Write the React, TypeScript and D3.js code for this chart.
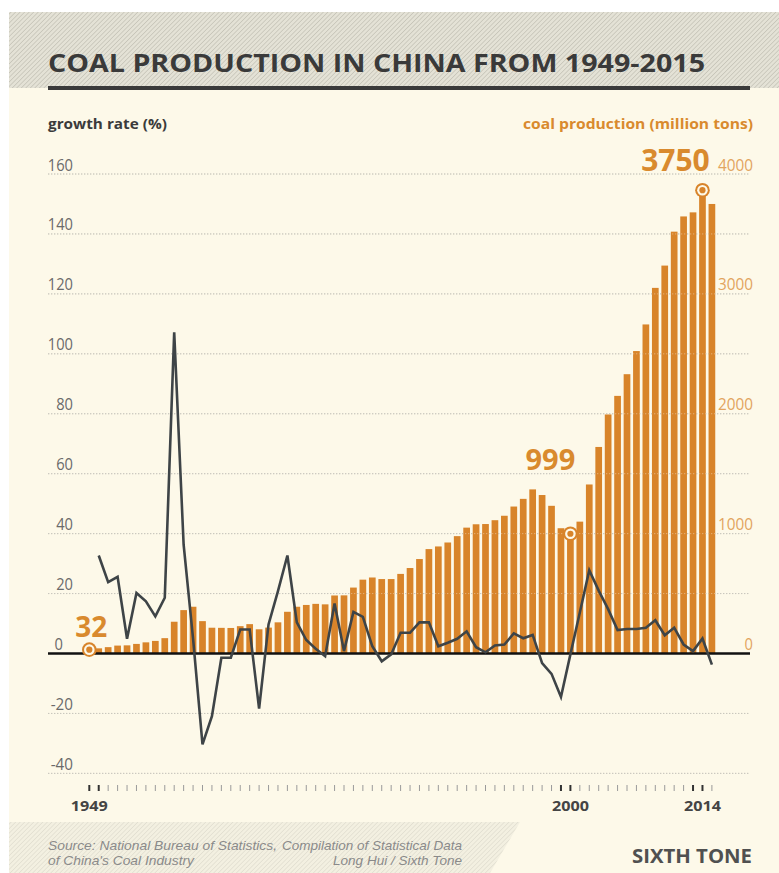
import React from "react";
import * as d3 from "d3";

// ---------- DATA ----------
const firstYear = 1949;
const lastYear = 2015;
const years: number[] = d3.range(firstYear, lastYear + 1);

// coal production, million tons (1949–2015)
const production: number[] = [
  32, 43, 53, 66, 68, 80, 93, 105, 128, 265,
  362, 390, 270, 215, 214, 213, 228, 245, 202, 216,
  260, 348, 390, 405, 414, 410, 484, 485, 550, 616,
  634, 621, 621, 664, 713, 788, 871, 893, 926, 979,
  1050, 1078, 1080, 1112, 1149, 1226, 1290, 1369, 1322, 1232,
  1045, 999, 1100, 1410, 1723, 1994, 2149, 2330, 2523, 2745,
  3050, 3236, 3519, 3646, 3680, 3865, 3750,
];

// growth rate, % (1950–2015)
const growthYears: number[] = d3.range(1950, lastYear + 1);
const growth: number[] = [
  32.7, 23.8, 25.6, 4.9, 20.2, 17.4, 12.4, 18.6, 107.2, 36.3,
  5, -30.3, -20.9, -1.4, -1.4, 8, 8, -18.4, 9.7, 20.8,
  32.7, 10.4, 4.5, 1.6, -0.9, 16.7, 0.8, 13.9, 12.2, 2.4,
  -2.6, -0.3, 6.9, 6.9, 10.4, 10.4, 2.4, 3.6, 4.9, 7.4,
  2.1, 0.4, 2.7, 3.0, 6.7, 5.1, 6.2, -3.2, -6.8, -14.5,
  -0.3, 13.7, 27.8, 21, 14.8, 7.8, 8.2, 8.2, 8.6, 11.1,
  6.1, 8.6, 3.0, 0.8, 5.0, -3.7,
];

const leftTicks: number[] = [-40, -20, 0, 20, 40, 60, 80, 100, 120, 140, 160];
const rightTicks: number[] = [0, 1000, 2000, 3000, 4000];
const xLabelYears: number[] = [1949, 2000, 2014];
const darkTickYears: number[] = [1949, 1950, 1999, 2000, 2013, 2014];

const markerYears: number[] = [1949, 2000, 2014];
const markerLabels: string[] = ["32", "999", "3750"];

// ---------- STYLE / LAYOUT ----------
const ORANGE = "#d8842a";
const ORANGE_TEXT = "#d98a2e";
const ORANGE_LIGHT = "#e2a45e";
const CREAM = "#fdf9e9";
const LINE = "#3e4447";
const markerLabelStyle = [
  { dx: 2, dy: -13, size: 28 },
  { dx: -20, dy: -64, size: 29 },
  { dx: -27, dy: -19, size: 30 },
];

const labelWidth = (s: string) =>
  s.split("").reduce((w, c) => w + (c === "-" ? 5.5 : 8.4), 0);

export default function App() {
  const W = 779;
  const H = 873;
  const x = d3.scaleLinear().domain([firstYear, lastYear]).range([89.3, 711.9]);
  const yL = d3.scaleLinear().domain([0, 160]).range([653.5, 174]);
  const yR = d3.scaleLinear().domain([0, 4000]).range([653.5, 174]);
  const bw = 6.7;
  const gridX1 = 48;
  const gridX2 = 749;

  const linePath = d3
    .line<number>()
    .x((_, i) => x(growthYears[i]))
    .y((d) => yL(d))(growth) as string;

  return (
    <svg
      width={W}
      height={H}
      style={{ position: "absolute", left: 0, top: 0, display: "block" }}
      fontFamily="'Open Sans', 'Noto Sans', sans-serif"
    >
      <defs>
        <pattern id="hatch" width="3.2" height="3.2" patternUnits="userSpaceOnUse" patternTransform="rotate(45)">
          <rect width="3.2" height="3.2" fill="#e4e2d6" />
          <line x1="0" y1="0" x2="0" y2="3.2" stroke="#c3c1b5" strokeWidth="1.4" />
        </pattern>
        <pattern id="hatch2" width="3.2" height="3.2" patternUnits="userSpaceOnUse" patternTransform="rotate(45)">
          <rect width="3.2" height="3.2" fill="#f3f0e1" />
          <line x1="0" y1="0" x2="0" y2="3.2" stroke="#e0ddcf" strokeWidth="1.4" />
        </pattern>
      </defs>

      {/* background */}
      <rect x={0} y={0} width={W} height={H} fill="#ffffff" />
      <rect x={9} y={12} width={W - 9} height={H - 12} fill={CREAM} />
      <rect x={9} y={12} width={W - 9} height={76} fill="url(#hatch)" />
      <polygon points={`9,822 520,822 490,${H} 9,${H}`} fill="url(#hatch2)" />

      {/* title */}
      <text x={48} y={71.7} fontSize={25.5} fontWeight={700} fill="#3a3a3a" textLength={657} lengthAdjust="spacingAndGlyphs">
        COAL PRODUCTION IN CHINA FROM 1949-2015
      </text>
      <rect x={48} y={86} width={702} height={4} fill="#3a3a3a" />

      {/* axis titles */}
      <text x={48} y={129} fontSize={14.5} fontWeight={700} fill="#3b3b3b" textLength={119} lengthAdjust="spacingAndGlyphs">
        growth rate (%)
      </text>
      <text x={753} y={129} fontSize={14.5} fontWeight={700} fill={ORANGE_TEXT} textAnchor="end" textLength={230} lengthAdjust="spacingAndGlyphs">
        coal production (million tons)
      </text>

      {/* gridlines under bars */}
      {leftTicks.filter((t) => t !== 0).map((t) => (
        <line key={"g" + t} x1={gridX1} x2={gridX2} y1={yL(t)} y2={yL(t)} stroke="#aaa79a" strokeWidth={1} strokeDasharray="1.3 1.7" />
      ))}

      {/* bars */}
      {production.map((v, i) => (
        <rect key={"b" + years[i]} x={x(years[i]) - bw / 2} y={yR(v)} width={bw} height={yR(0) - yR(v)} fill={ORANGE} />
      ))}

      {/* gridlines over bars (light) */}
      {leftTicks.filter((t) => t !== 0).map((t) => (
        <line key={"gw" + t} x1={gridX1} x2={gridX2} y1={yL(t)} y2={yL(t)} stroke="#ffffff" strokeOpacity={0.35} strokeWidth={1} strokeDasharray="1.3 1.7" />
      ))}

      {/* zero line */}
      <line x1={48} x2={750} y1={yL(0)} y2={yL(0)} stroke="#111" strokeWidth={2.5} />

      {/* left tick labels */}
      {leftTicks.map((t) => (
        <text key={"lt" + t} x={t === 0 ? 63 : 73} y={yL(t) - 3.5} fontSize={16.5} fill="#6a6a6a" textAnchor="end" textLength={labelWidth(String(t))} lengthAdjust="spacingAndGlyphs">
          {t}
        </text>
      ))}

      {/* right tick labels */}
      {rightTicks.map((t) => (
        <text key={"rt" + t} x={753} y={yR(t) - 3.5} fontSize={16.5} fill={ORANGE_LIGHT} textAnchor="end" textLength={labelWidth(String(t)) + (String(t).length > 1 ? 1.5 : 0)} lengthAdjust="spacingAndGlyphs">
          {t}
        </text>
      ))}

      {/* growth line */}
      <path d={linePath} fill="none" stroke={LINE} strokeWidth={2.6} strokeLinejoin="miter" />

      {/* markers */}
      {markerYears.map((yr, i) => {
        const v = production[years.indexOf(yr)];
        const cx = x(yr);
        const cy = yR(v);
        const st = markerLabelStyle[i];
        return (
          <g key={"m" + yr}>
            <circle cx={cx} cy={cy} r={7.3} fill={ORANGE} />
            <circle cx={cx} cy={cy} r={5.3} fill={CREAM} />
            <circle cx={cx} cy={cy} r={3.1} fill={ORANGE} />
            <text x={cx + st.dx} y={cy + st.dy} fontSize={st.size} fontWeight={700} fill={ORANGE_TEXT} textAnchor="middle">
              {markerLabels[i]}
            </text>
          </g>
        );
      })}

      {/* x ticks */}
      {years.map((yr) => {
        const dark = darkTickYears.includes(yr);
        return (
          <line key={"xt" + yr} x1={x(yr)} x2={x(yr)} y1={785} y2={791} stroke={dark ? "#333" : "#9a9a9a"} strokeWidth={dark ? 2 : 1} />
        );
      })}
      {xLabelYears.map((yr) => (
        <text key={"xl" + yr} x={x(yr)} y={811} fontSize={15} fontWeight={700} fill="#444" textAnchor="middle" textLength={37} lengthAdjust="spacingAndGlyphs">
          {yr}
        </text>
      ))}

      {/* footer */}
      <g fontFamily="'Liberation Sans', Arial, sans-serif" fontStyle="italic" fontSize={13.5} fill="#8a8a8a">
        <text x={48} y={850} textLength={229} lengthAdjust="spacingAndGlyphs">Source: National Bureau of Statistics,</text>
        <text x={282} y={850} textLength={180} lengthAdjust="spacingAndGlyphs">Compilation of Statistical Data</text>
        <text x={48} y={865} textLength={146} lengthAdjust="spacingAndGlyphs">of China's Coal Industry</text>
        <text x={462} y={865} textAnchor="end" textLength={129} lengthAdjust="spacingAndGlyphs">Long Hui / Sixth Tone</text>
      </g>
      <text x={632} y={863} fontSize={20} fontWeight={700} fill="#505050" textLength={120} lengthAdjust="spacingAndGlyphs">
        SIXTH TONE
      </text>
    </svg>
  );
}
